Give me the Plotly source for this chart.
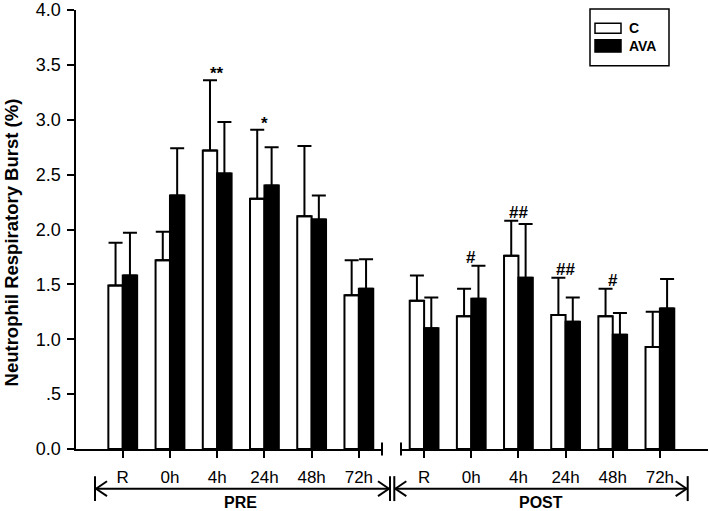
import plotly.graph_objects as go

# ---------------- data ----------------
categories = ["R", "0h", "4h", "24h", "48h", "72h"]

pre_c = [1.49, 1.72, 2.72, 2.28, 2.12, 1.40]
pre_c_err = [0.39, 0.26, 0.64, 0.63, 0.64, 0.32]
pre_ava = [1.58, 2.31, 2.51, 2.40, 2.09, 1.46]
pre_ava_err = [0.39, 0.43, 0.47, 0.35, 0.22, 0.27]

post_c = [1.35, 1.21, 1.76, 1.22, 1.21, 0.93]
post_c_err = [0.23, 0.25, 0.32, 0.34, 0.25, 0.32]
post_ava = [1.10, 1.37, 1.56, 1.16, 1.04, 1.28]
post_ava_err = [0.28, 0.30, 0.49, 0.22, 0.20, 0.27]

pre_marks = ["", "", "**", "*", "", ""]
post_marks = ["", "#", "##", "##", "#", ""]

y_tickvals = [0, 0.5, 1.0, 1.5, 2.0, 2.5, 3.0, 3.5, 4.0]
y_ticktext = ["0.0", ".5", "1.0", "1.5", "2.0", "2.5", "3.0", "3.5", "4.0"]

series_names = ["C", "AVA"]
group_names = ["PRE", "POST"]
y_title = "Neutrophil Respiratory Burst (%)"

# ---------------- layout geometry ----------------
W, H = 709, 511
PL, PR, PT, PB = 76, 1, 9.5, 61.5
PW = W - PL - PR
PH = H - PT - PB
FONT = "Liberation Sans, Arial, sans-serif"


def px(x):
    return (x - PL) / PW


def py(y):
    return (PT + PH - y) / PH


fig = go.Figure()

fill = {"C": "white", "AVA": "black"}


def add_group(vals_c, err_c, vals_a, err_a, xa):
    for name, vals, err in (("C", vals_c, err_c), ("AVA", vals_a, err_a)):
        fig.add_trace(go.Bar(
            x=categories, y=vals, name=name, showlegend=False,
            offsetgroup=name, xaxis=xa, yaxis="y",
            marker=dict(color=fill[name], line=dict(color="black", width=2)),
            error_y=dict(type="data", array=err, arrayminus=[0] * len(err),
                         symmetric=False, color="black", thickness=2, width=7),
        ))


add_group(pre_c, pre_c_err, pre_ava, pre_ava_err, "x")
add_group(post_c, post_c_err, post_ava, post_ava_err, "x2")

# significance marks
annotations = []
for marks, vc, ec, va, ea, xr in ((pre_marks, pre_c, pre_c_err, pre_ava, pre_ava_err, "x"),
                                  (post_marks, post_c, post_c_err, post_ava, post_ava_err, "x2")):
    for i, m in enumerate(marks):
        if not m:
            continue
        top = max(vc[i] + ec[i], va[i] + ea[i])
        annotations.append(dict(x=categories[i], y=top, xref=xr, yref="y", text=m,
                                showarrow=False, yanchor="bottom",
                                yshift=-5 if "*" in m else -3,
                                font=dict(family=FONT, size=17, color="black", weight="bold")))

# y axis title
annotations.append(dict(x=px(11), y=py(242.5), xref="paper", yref="paper", text=y_title,
                        textangle=-90, showarrow=False, xanchor="center", yanchor="middle",
                        font=dict(family=FONT, size=18.5, color="black", weight="bold")))

# group labels
annotations.append(dict(x=px(240), y=py(502.7), xref="paper", yref="paper", text=group_names[0],
                        showarrow=False, xanchor="center", yanchor="middle",
                        font=dict(family=FONT, size=16, color="black", weight="bold")))
annotations.append(dict(x=px(541), y=py(502.7), xref="paper", yref="paper", text=group_names[1],
                        showarrow=False, xanchor="center", yanchor="middle",
                        font=dict(family=FONT, size=16, color="black", weight="bold")))

# legend text
annotations.append(dict(x=px(627), y=py(28), xref="paper", yref="paper", text=series_names[0],
                        showarrow=False, xanchor="left", yanchor="middle",
                        font=dict(family=FONT, size=14, color="black", weight="bold")))
annotations.append(dict(x=px(627), y=py(45.5), xref="paper", yref="paper", text=series_names[1],
                        showarrow=False, xanchor="left", yanchor="middle",
                        font=dict(family=FONT, size=14, color="black", weight="bold")))

shapes = []


def seg(x0, y0, x1, y1, w=2):
    shapes.append(dict(type="line", xref="paper", yref="paper",
                       x0=px(x0), y0=py(y0), x1=px(x1), y1=py(y1),
                       line=dict(color="black", width=w)))


# axis break end ticks
seg(382, 443, 382, 456)
seg(401, 443, 401, 456)

# group arrows
AY = 489.3
for xl, xr in ((95, 390), (394.3, 687.7)):
    seg(xl, 476.7, xl, 501.7)
    seg(xr, 476.7, xr, 501.7)
    seg(xl, AY, xr, AY)
    seg(xl + 1, AY, xl + 12, AY - 7.5)
    seg(xl + 1, AY, xl + 12, AY + 7.5)
    seg(xr - 1, AY, xr - 12, AY - 7.5)
    seg(xr - 1, AY, xr - 12, AY + 7.5)

# legend box & swatches
shapes.append(dict(type="rect", xref="paper", yref="paper",
                   x0=px(590), y0=py(65.5), x1=px(669), y1=py(8.5),
                   line=dict(color="black", width=1.5), fillcolor="white", layer="above"))
shapes.append(dict(type="rect", xref="paper", yref="paper",
                   x0=px(595), y0=py(32.7), x1=px(621), y1=py(22.7),
                   line=dict(color="black", width=1.5), fillcolor="white", layer="above"))
shapes.append(dict(type="rect", xref="paper", yref="paper",
                   x0=px(595), y0=py(51.7), x1=px(621), y1=py(39.3),
                   line=dict(color="black", width=1.5), fillcolor="black", layer="above"))

xaxis_common = dict(type="category", showline=True, linecolor="black", linewidth=2,
                    ticks="outside", ticklen=7, tickwidth=2, tickcolor="black",
                    tickfont=dict(family=FONT, size=17, color="black"),
                    showgrid=False, zeroline=False, anchor="y", fixedrange=True,
                    ticklabelstandoff=5)

fig.update_layout(
    width=W, height=H,
    margin=dict(l=PL, r=PR, t=PT, b=PB),
    paper_bgcolor="white", plot_bgcolor="white",
    barmode="group", bargap=0.39, bargroupgap=0,
    showlegend=False,
    xaxis=dict(domain=[0, px(382)], range=[-0.99, 5.49], **xaxis_common),
    xaxis2=dict(domain=[px(401), 1], range=[-0.49, 6.02], **xaxis_common),
    yaxis=dict(range=[0, 4], tickvals=y_tickvals, ticktext=y_ticktext,
               showline=True, linecolor="black", linewidth=2,
               ticks="outside", ticklen=7.5, tickwidth=2, tickcolor="black",
               tickfont=dict(family=FONT, size=18, color="black"),
               showgrid=False, zeroline=False, ticklabelstandoff=2, fixedrange=True),
    annotations=annotations,
    shapes=shapes,
)

fig.write_html("out.html", config={"displayModeBar": False, "staticPlot": True},
               post_script="document.body.style.margin='0px';document.body.style.overflow='hidden';")
